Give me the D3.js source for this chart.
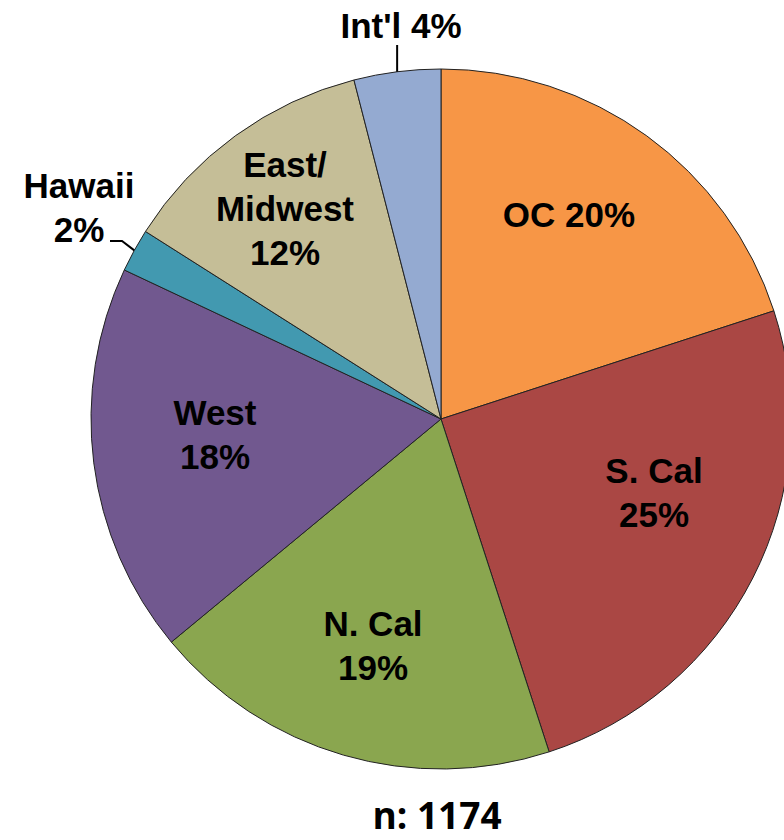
<!DOCTYPE html>
<meta charset="utf-8">
<style>
body { margin: 0; background: #fff; }
.lbl { font-family: "Liberation Sans", Arial, sans-serif; font-weight: bold; font-size: 35px; fill: #000; }
.note { font-family: "Open Sans", sans-serif; font-weight: 700; font-size: 37px; fill: #000; }
</style>
<body>
<script src="https://cdn.jsdelivr.net/npm/d3@7"></script>
<script>
var regions = ["OC", "S. Cal", "N. Cal", "West", "Hawaii", "East/Midwest", "Int'l"];
var shares = [20, 25, 19, 18, 2, 12, 4];
var colors = ["#F79646", "#AA4744", "#8AA64F", "#71588F", "#4299B0", "#C5BE97", "#94AAD1"];
// label text, one entry per line
var labelLines = [["OC 20%"], ["S. Cal", "25%"], ["N. Cal", "19%"], ["West", "18%"], ["Hawaii", "2%"], ["East/", "Midwest", "12%"], ["Int'l 4%"]];
var sampleNote = "n: 1174";

var width = 784, height = 840;
var cx = 441, cy = 419, r = 350;

var svg = d3.select("body").append("svg")
  .attr("width", width)
  .attr("height", height);

var g = svg.append("g").attr("transform", "translate(" + cx + "," + cy + ")");

var pie = d3.pie().sort(null).value(function(d) { return d; });
var arc = d3.arc().innerRadius(0).outerRadius(r);
var arcs = pie(shares);

g.selectAll("path.slice")
  .data(arcs)
  .enter().append("path")
  .attr("class", "slice")
  .attr("d", arc)
  .attr("fill", function(d, i) { return colors[i]; })
  .attr("stroke", "#222")
  .attr("stroke-width", 1);

// where the first baseline of each label sits (picked by eye)
var labelPos = [[569, 227], [654, 483], [373, 636], [215, 425], [79, 198], [285, 177], [401, 38]];
var lineH = 44;

labelLines.forEach(function(lines, i) {
  var t = svg.append("text").attr("class", "lbl").attr("text-anchor", "middle");
  lines.forEach(function(s, k) {
    t.append("tspan")
      .attr("x", labelPos[i][0])
      .attr("y", labelPos[i][1] + k * lineH)
      .text(s);
  });
});

// leader lines for the two thin slices
function edge(d) {
  var a = (d.startAngle + d.endAngle) / 2;
  return [cx + Math.sin(a) * r, cy - Math.cos(a) * r];
}
var hp = edge(arcs[4]);
svg.append("path")
  .attr("d", "M110,241 L122,241 L" + hp[0] + "," + hp[1])
  .attr("fill", "none").attr("stroke", "#000").attr("stroke-width", 2);
var ip = edge(arcs[6]);
svg.append("path")
  .attr("d", "M" + ip[0] + ",45 L" + ip[0] + "," + ip[1])
  .attr("fill", "none").attr("stroke", "#000").attr("stroke-width", 2);

svg.append("text")
  .attr("class", "note")
  .attr("x", 437)
  .attr("y", 829)
  .attr("text-anchor", "middle")
  .text(sampleNote);
</script>
</body>
